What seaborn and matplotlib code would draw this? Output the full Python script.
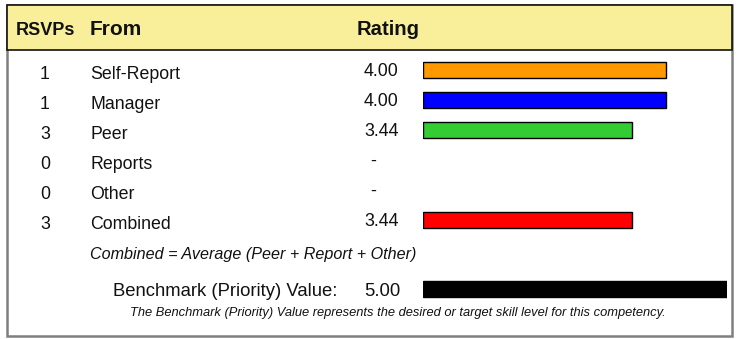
import matplotlib
matplotlib.use("Agg")
import matplotlib.pyplot as plt
from matplotlib.patches import Rectangle
import numpy as np
import pandas as pd
import seaborn as sns

# ---- data -------------------------------------------------------------
header = ["RSVPs", "From", "Rating"]
sources = ["Self-Report", "Manager", "Peer", "Reports", "Other", "Combined"]
rsvps = [1, 1, 3, 0, 0, 3]
ratings = [4.00, 4.00, 3.44, np.nan, np.nan, 3.44]
bar_colors = ["#FF9900", "#0000FF", "#33CC33", "#FFFFFF", "#FFFFFF", "#FF0000"]
combined_note = "Combined = Average (Peer + Report + Other)"
benchmark_label = "Benchmark (Priority) Value:"
benchmark = [5.00]
benchmark_note = ("The Benchmark (Priority) Value represents the desired or "
                  "target skill level for this competency.")

# ---- figure -----------------------------------------------------------
W, H = 738, 339
sns.set_theme(style="white")
plt.rcParams["font.family"] = ["Liberation Sans", "DejaVu Sans"]

fig = plt.figure(figsize=(W / 100, H / 100), dpi=100)

# pixel-space layer for frame, header band and text
bg = fig.add_axes([0, 0, 1, 1])
bg.set_xlim(0, W)
bg.set_ylim(H, 0)
bg.axis("off")

bg.add_patch(Rectangle((7, 5), 725, 331, fill=False, edgecolor="#7f7f7f", lw=1.8))
bg.add_patch(Rectangle((7, 5), 725, 45, facecolor="#F9EF9A", edgecolor="#111111", lw=1.2))

bg.text(45, 35, header[0], ha="center", va="baseline", fontsize=13, fontweight="bold", color="#111111")
bg.text(90, 35, header[1], ha="left", va="baseline", fontsize=15, fontweight="bold", color="#111111")
bg.text(357, 35, header[2], ha="left", va="baseline", fontsize=14.6, fontweight="bold", color="#111111")

# bar area: x in rating units (0..5), one category per 30 px row
x0_px, x5_px = 423, 727
row_top, row_h = 55, 30
n = len(sources)
ax = fig.add_axes([x0_px / W, 1 - (row_top + n * row_h) / H,
                   (x5_px - x0_px) / W, n * row_h / H])
df = pd.DataFrame({"source": sources, "rating": ratings})
sns.barplot(data=df, x="rating", y="source", hue="source", order=sources,
            palette=dict(zip(sources, bar_colors)), saturation=1, orient="h",
            width=0.53, edgecolor="black", linewidth=1.0, legend=False, ax=ax)
ax.set_xlim(0, 5)
ax.set_ylim(n - 0.5, -0.5)
ax.axis("off")
ax.patch.set_alpha(0)

for i, (src, cnt, val) in enumerate(zip(sources, rsvps, ratings)):
    cy = row_top + row_h * (i + 0.5)
    bg.text(45, cy + 9, str(cnt), ha="center", va="baseline", fontsize=12.8, color="#111111")
    bg.text(90, cy + 9, src, ha="left", va="baseline", fontsize=12.8, color="#111111")
    if np.isnan(val):
        bg.text(373, cy + 5.5, "-", ha="center", va="baseline", fontsize=12.8, color="#111111")
    else:
        bg.text(364, cy + 5.5, f"{val:.2f}", ha="left", va="baseline", fontsize=12.8, color="#111111")

bg.text(90, 258.5, combined_note, ha="left", va="baseline", fontsize=11.6, style="italic", color="#111111")

# benchmark bar on the same rating scale
bcy = 289
axb = fig.add_axes([x0_px / W, 1 - (bcy + row_h / 2) / H, (x5_px - x0_px) / W, row_h / H])
sns.barplot(x=benchmark, y=[benchmark_label], orient="h", width=0.56, color="black",
            saturation=1, edgecolor="black", linewidth=1.0, ax=axb)
axb.set_xlim(0, 5)
axb.set_ylim(0.5, -0.5)
axb.axis("off")
axb.patch.set_alpha(0)

bg.text(113, bcy + 6.5, benchmark_label, ha="left", va="baseline", fontsize=13.3, color="#111111")
bg.text(364, bcy + 6.5, f"{benchmark[0]:.2f}", ha="left", va="baseline", fontsize=13.3, color="#111111")
bg.text(398, 316, benchmark_note, ha="center", va="baseline", fontsize=9.3, style="italic", color="#111111")

fig.savefig("out.png", dpi=100)
